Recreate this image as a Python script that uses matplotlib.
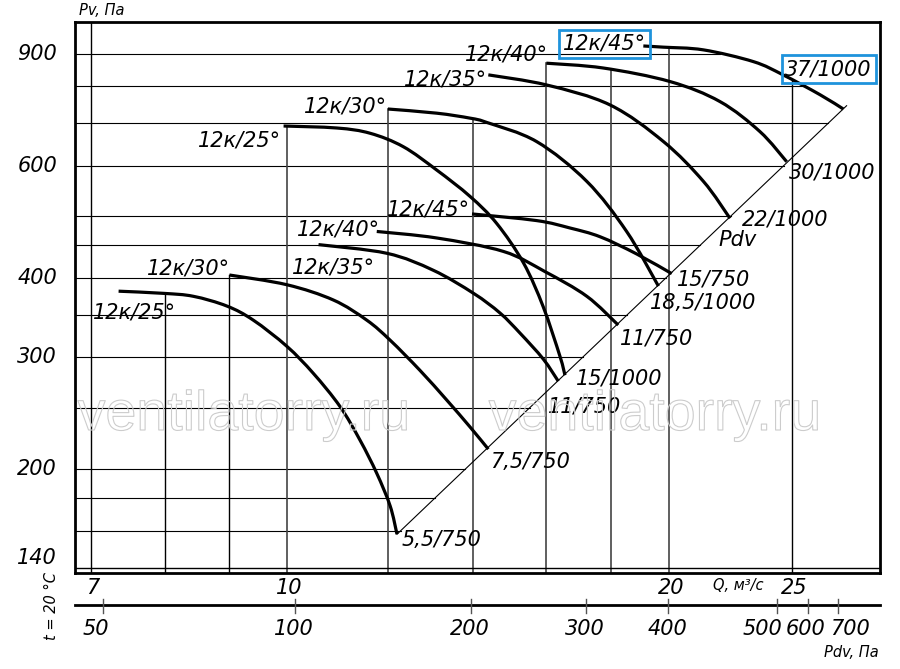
import numpy as np
import matplotlib
matplotlib.use("Agg")
import matplotlib.pyplot as plt
import matplotlib.patheffects as pe
from matplotlib.path import Path
from matplotlib.patches import PathPatch

plt.rcParams['font.family'] = ['DejaVu Sans']

# ---- values ----
blade_angles = ["12к/25°", "12к/30°", "12к/35°", "12к/40°", "12к/45°"]

# 750 rpm bundle (lower curves), Q in m3/s, Pv in Pa
q_750 = [
    [7.36, 7.99, 8.43, 8.96, 9.40, 9.99, 10.48, 11.00, 11.41, 11.76, 12.05, 12.20],
    [9.0, 9.99, 10.87, 11.55, 12.05, 12.72, 13.35, 13.93, 14.40],
    [10.58, 11.98, 13.03, 14.02, 14.71, 15.26, 15.91, 16.35],
    [11.76, 13.11, 14.80, 15.96, 17.22, 18.23],
    [13.98, 15.72, 16.70, 17.64, 18.85, 20.09],
]
pv_750 = [
    [381, 378, 374, 361, 343, 312, 283, 251, 222, 197, 175, 158],
    [404, 390, 369, 343, 319, 286, 257, 233, 215],
    [451, 437, 411, 378, 352, 327, 298, 275],
    [473, 462, 440, 409, 374, 337],
    [504, 492, 479, 464, 436, 406],
]
motors_750 = ["5,5/750", "7,5/750", "11/750", "11/750", "15/750"]

# 1000 rpm bundle (upper curves)
q_1000 = [
    [9.93, 10.94, 11.62, 12.34, 13.11, 13.93, 14.62, 15.35, 15.91, 16.40, 16.55],
    [12.0, 13.11, 13.93, 14.36, 15.72, 17.22, 18.51, 19.61],
    [14.40, 16.01, 17.96, 19.79, 21.28, 22.33],
    [16.0, 17.74, 20.03, 21.93, 23.58, 24.75],
    [19.08, 19.79, 21.28, 23.30, 24.59, 26.30, 27.43],
]
pv_1000 = [
    [693, 688, 675, 643, 591, 537, 487, 422, 360, 301, 281],
    [737, 726, 713, 702, 655, 567, 473, 388],
    [834, 804, 748, 655, 567, 496],
    [870, 855, 814, 757, 679, 609],
    [926, 922, 913, 875, 834, 776, 737],
]
motors_1000 = ["15/1000", "18,5/1000", "22/1000", "30/1000", "37/1000"]

pv_grid = [160, 180, 200, 250, 300, 350, 400, 450, 500, 600, 700, 800, 900]
q_grid = [8, 9, 10, 12, 14, 16, 18, 20, 25]
pv_ticks = [140, 200, 300, 400, 600, 900]
q_ticks = [7, 10, 20, 25]
pdv_ticks = [50, 100, 200, 300, 400, 500, 600, 700]
pdv_at_q = [7.16, 10.14, 13.96, 17.20, 19.96, 24.32, 25.73, 27.17]  # Q where each Pdv mark sits

# ---- label placement (pixel offsets from curve start / end) ----
angle_off_750 = [(58, -27), (1, 1), (57, -29), (3, -4), (-2, -2)]
angle_off_1000 = [(-2, -20), (-1, -3), (-1, -11), (2, 3), (3, -4)]
motor_off_750 = [(5, -12), (2, -19), (-10, -31), (2, -19), (5, -12)]
motor_off_1000 = [(11, -9), (-8, -23), (12, -7), (2, -17), (-58, 34)]
pdv_dx = [-8, -1, -1, -1, -1, 5, -2, -8]
pdv_ha = ['center'] * 5 + ['right', 'center', 'left']

xlim = (6.80, 29.32)
ylim = (137.3, 1010)
fs = 15
blue = '#1e93dc'

fig = plt.figure(figsize=(9, 6.69), dpi=100)
ax = fig.add_axes([75 / 900, 96 / 669, 805 / 900, 551 / 669])
ax.set_xscale('log')
ax.set_yscale('log')
ax.set_xlim(*xlim)
ax.set_ylim(*ylim)
ax.tick_params(which='both', length=0, labelbottom=False, labelleft=False)
for s in ax.spines.values():
    s.set_linewidth(2.0)

all_q = q_750 + q_1000
all_p = pv_750 + pv_1000


def envelope(q):
    best = np.nan
    for qs, ps in zip(all_q, all_p):
        if qs[0] - 1e-9 <= q <= qs[-1] + 1e-9:
            v = np.exp(np.interp(np.log(q), np.log(qs), np.log(ps)))
            best = v if np.isnan(best) else max(best, v)
    return best


def smooth_path(qs, ps):
    # Catmull-Rom through the read points, drawn as cubic Beziers in log space
    pts = np.column_stack([np.log(qs), np.log(ps)])
    ext = np.vstack([pts[0], pts, pts[-1]])
    verts = [pts[0]]
    codes = [Path.MOVETO]
    for i in range(len(pts) - 1):
        p0, p1, p2, p3 = ext[i], ext[i + 1], ext[i + 2], ext[i + 3]
        verts += [p1 + (p2 - p0) / 6, p2 - (p3 - p1) / 6, p2]
        codes += [Path.CURVE4] * 3
    return Path(np.exp(np.array(verts)), codes)


# Pdv line through the curve ends
ends = sorted((qs[-1], ps[-1]) for qs, ps in zip(all_q, all_p))
(dq0, dp0), (dq1, dp1) = ends[0], ends[-1]
slope = np.log(dp1 / dp0) / np.log(dq1 / dq0)


def q_on_diag(p):
    return dq0 * (p / dp0) ** (1 / slope)


qq = np.geomspace(xlim[0], xlim[1], 4000)
env = np.array([envelope(q) for q in qq])

# grid, trimmed to the working area
for p in pv_grid:
    ok = qq[np.nan_to_num(env) >= p]
    q_end = min(ok.max(), q_on_diag(p)) if len(ok) else q_on_diag(p)
    ax.plot([xlim[0], q_end], [p, p], color='k', lw=0.8, zorder=1)
for q in q_grid:
    top = envelope(q)
    if np.isnan(top):
        top = ylim[1]
    col = 'k' if q in (8, 9, 25) else '#444444'
    ax.plot([q, q], [ylim[0], top], color=col, lw=1.0 if col == 'k' else 1.2, zorder=1)
ax.plot(xlim, [pv_ticks[0]] * 2, color='k', lw=1.0, zorder=1)
ax.plot([q_ticks[0]] * 2, ylim, color='k', lw=1.0, zorder=1)

ax.plot([dq0, dq1 * 1.006], [dp0, dp1 * 1.012], color='k', lw=0.8, zorder=2)

lab = dict(fontsize=fs, style='italic', textcoords='offset pixels', va='baseline', zorder=5)
for qs_set, ps_set, motors, aoff, moff, grp in [
        (q_750, pv_750, motors_750, angle_off_750, motor_off_750, 750),
        (q_1000, pv_1000, motors_1000, angle_off_1000, motor_off_1000, 1000)]:
    for i, (qs, ps) in enumerate(zip(qs_set, ps_set)):
        ax.add_patch(PathPatch(smooth_path(qs, ps), fill=False, edgecolor='k', lw=2.3,
                               capstyle='butt', zorder=3))
        boxed = grp == 1000 and i == 4
        bb = dict(boxstyle='square,pad=0.18', fc='none', ec=blue, lw=2.0) if boxed else None
        ax.annotate(blade_angles[i], (qs[0], ps[0]), xytext=aoff[i], ha='right', bbox=bb, **lab)
        ax.annotate(motors[i], (qs[-1], ps[-1]), xytext=moff[i], ha='left', bbox=bb, **lab)

ax.annotate('Pdv', (q_1000[2][-1], pv_1000[2][-1]), xytext=(-12, -28), ha='left', **lab)

# axis labels
ytr = ax.get_yaxis_transform()
xtr = ax.get_xaxis_transform()
for v in pv_ticks:
    ax.text(-0.0224, v, str(v), transform=ytr, ha='right',
            va='bottom' if v == pv_ticks[0] else 'center', fontsize=fs, style='italic')
for v in q_ticks:
    ax.annotate(str(v), (v, -0.0272), xycoords=xtr, xytext=(2, 0), textcoords='offset pixels',
                ha='center', va='center', fontsize=fs, style='italic', annotation_clip=False)
ax.text(0.8236, -0.0218, 'Q, м³/с', transform=ax.transAxes, ha='center', va='center',
        fontsize=10.5, style='italic')
ax.text(0.0335, 1.02, 'Pv, Па', transform=ax.transAxes, ha='center', va='center',
        fontsize=10.5, style='italic')

# Pdv scale under the Q axis
ax.plot([0, 1], [-0.0581, -0.0581], transform=ax.transAxes, color='k', lw=2.0, clip_on=False)
for v, q, dx, ha in zip(pdv_ticks, pdv_at_q, pdv_dx, pdv_ha):
    ax.plot([q, q], [-0.0472, -0.0726], transform=xtr, color='#555555', lw=1.0, clip_on=False)
    ax.annotate(str(v), (q, -0.1016), xycoords=xtr, xytext=(dx, 0), textcoords='offset pixels',
                ha=ha, va='center', fontsize=fs, style='italic', annotation_clip=False)
ax.text(0.965, -0.1434, 'Pdv, Па', transform=ax.transAxes, ha='center', va='center',
        fontsize=10.5, style='italic')
ax.text(-0.0286, -0.0599, 't = 20 °C', transform=ax.transAxes, ha='center', va='center',
        rotation=90, fontsize=10.5, style='italic')

# watermark
for cx in (244, 655):
    fig.text(cx / 900, 1 - 430 / 669, 'ventilatorry.ru', fontsize=40, family='Liberation Sans',
             color=(1, 1, 1, 0), ha='center', va='baseline',
             path_effects=[pe.Stroke(linewidth=0.8, foreground='#cccccc')])

fig.savefig('out.png', dpi=100)
